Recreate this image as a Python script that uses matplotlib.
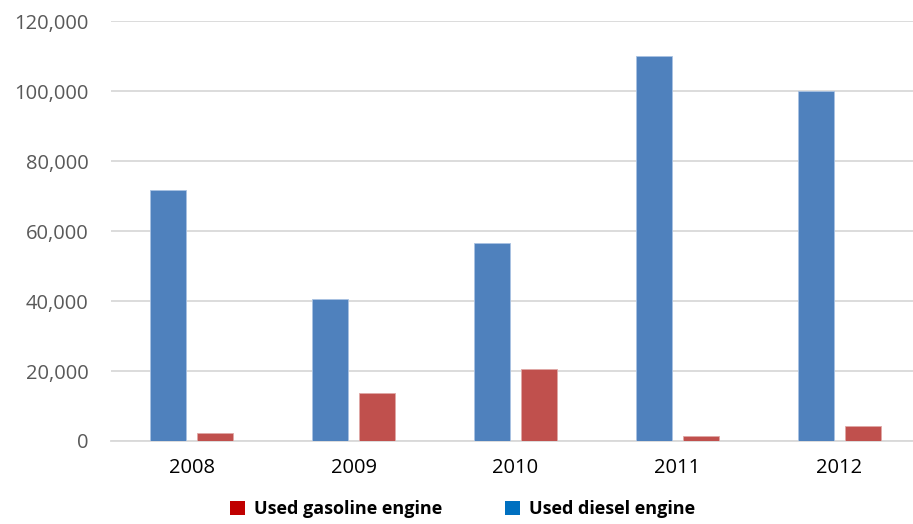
import matplotlib
matplotlib.use("Agg")
import matplotlib.pyplot as plt
import numpy as np
from matplotlib.patches import Patch

plt.rcParams["font.family"] = ["Open Sans", "DejaVu Sans"]

years = ["2008", "2009", "2010", "2011", "2012"]
diesel = [71800, 40700, 56500, 110000, 100100]
gasoline = [2400, 13800, 20700, 1300, 4200]

fig = plt.figure(figsize=(9.13, 5.24), dpi=100)
left_px, right_px = 110.7, 920.2
ax = fig.add_axes([left_px/913, 1-441/524, (right_px-left_px)/913, (441-21)/524])

x = np.arange(len(years))
w = 0.222
off = 0.145
ax.bar(x - off, diesel, w, color="#4F81BD", edgecolor="#A9C2E2", linewidth=0.6, zorder=3)
ax.bar(x + off, gasoline, w, color="#C0504D", edgecolor="#E0A8A6", linewidth=0.6, zorder=3)

ax.set_xlim(-0.5, len(years) - 0.5)
ax.set_ylim(0, 120000)
ax.set_yticks(np.arange(0, 120001, 20000))
ax.set_yticklabels([f"{v:,}" for v in range(0, 120001, 20000)])
ax.set_xticks(x)
ax.set_xticklabels(years)
ax.grid(axis="y", color="#D9D9D9", linewidth=1.3, zorder=0)
for s in ["top", "right", "left"]:
    ax.spines[s].set_visible(False)
ax.spines["bottom"].set_color("#D9D9D9")
ax.spines["bottom"].set_linewidth(1.3)
ax.tick_params(axis="both", length=0, labelsize=14.5, colors="#595959")
ax.tick_params(axis="y", pad=16)
ax.tick_params(axis="x", pad=12, labelcolor="#000000")

handles = [Patch(facecolor="#C00000", edgecolor="none"), Patch(facecolor="#0070C0", edgecolor="none")]
fig.legend(handles, ["Used gasoline engine", "Used diesel engine"], loc="center",
           bbox_to_anchor=(462.5/913, 1-509/524), ncol=2, frameon=False,
           prop={"weight": "bold", "size": 13}, handlelength=0.83, handleheight=0.83,
           handletextpad=0.5, columnspacing=3.43, borderpad=0, borderaxespad=0)

fig.savefig("out.png", dpi=100)
